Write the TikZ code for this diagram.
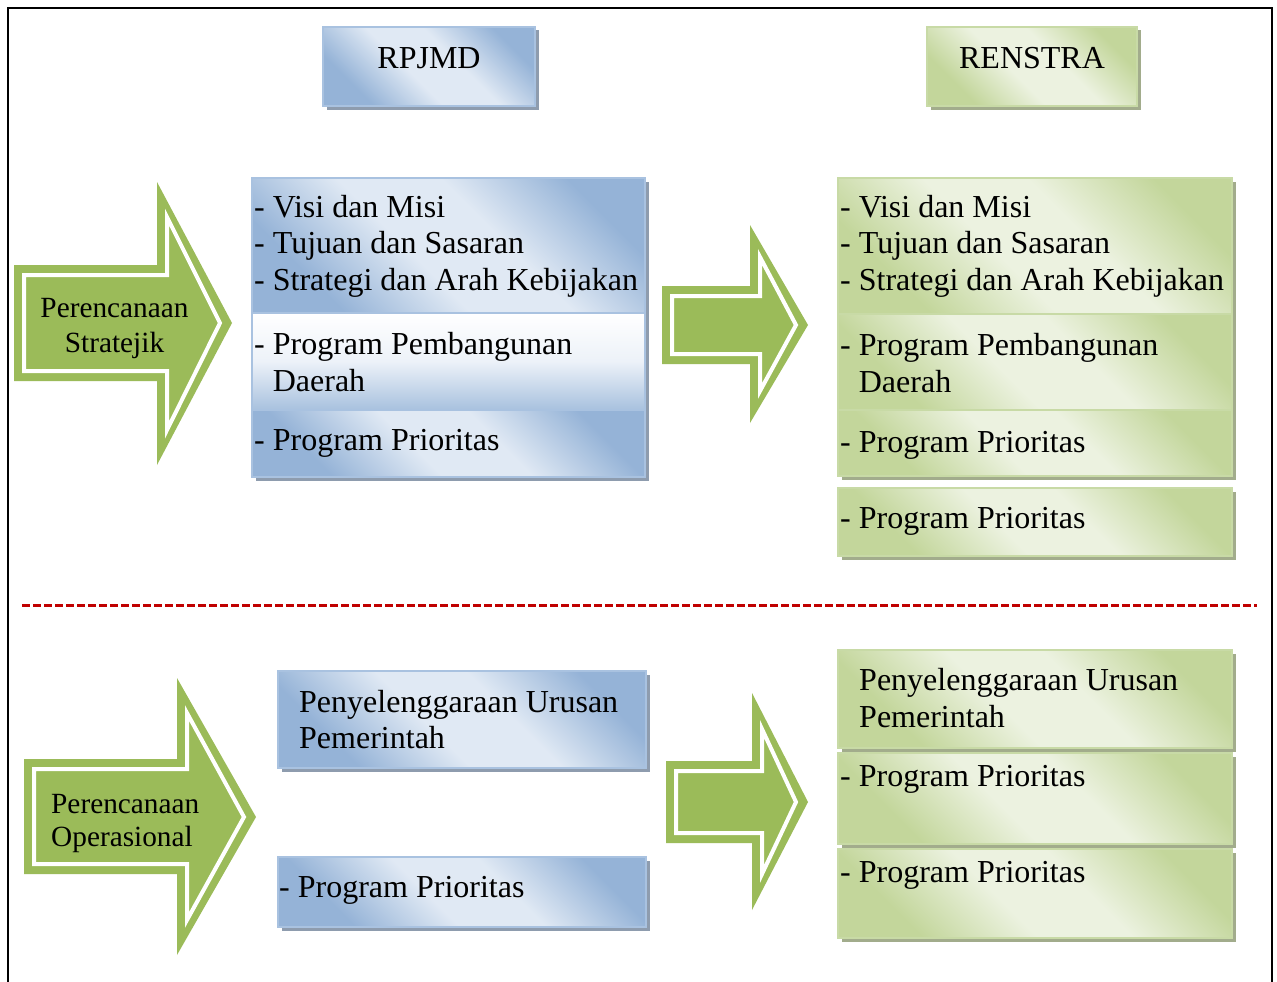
\documentclass[tikz,border=0pt]{standalone}
\usepackage{fontspec}
\setmainfont{Liberation Serif}
\usetikzlibrary{shadows}
\definecolor{bdk}{HTML}{95B3D7}
\definecolor{blt}{HTML}{E0E9F4}
\definecolor{bbd}{HTML}{A9C2E0}
\definecolor{bsh}{HTML}{8E9CAE}
\definecolor{gdk}{HTML}{C3D69B}
\definecolor{glt}{HTML}{ECF2E0}
\definecolor{gbd}{HTML}{C8DAA6}
\definecolor{gsh}{HTML}{A2AC8C}
\definecolor{arr}{HTML}{9BBB59}
\definecolor{dred}{HTML}{C00000}
\pgfdeclareverticalshading{bluesh}{100bp}{color(0bp)=(bdk); color(27bp)=(bdk); color(44bp)=(blt); color(58bp)=(blt); color(75bp)=(bdk); color(100bp)=(bdk)}
\pgfdeclareverticalshading{greensh}{100bp}{color(0bp)=(gdk); color(27bp)=(gdk); color(44bp)=(glt); color(58bp)=(glt); color(75bp)=(gdk); color(100bp)=(gdk)}
\tikzset{
  box/.style={rectangle, inner sep=0pt, outer sep=0pt, line width=1.2pt},
  bluebox/.style={box, draw=bbd, shading=bluesh, shading angle=-45,
    drop shadow={shadow xshift=3.5pt, shadow yshift=-3.5pt, fill=bsh, opacity=1}},
  whitebluebox/.style={box, draw=bbd, top color=white, bottom color=bdk!75!blt, middle color=blt!60!white,
    drop shadow={shadow xshift=3.5pt, shadow yshift=-3.5pt, fill=bsh, opacity=1}},
  greenbox/.style={box, draw=gbd, shading=greensh, shading angle=-45,
    drop shadow={shadow xshift=3.5pt, shadow yshift=-3.5pt, fill=gsh, opacity=1}},
  txt/.style={anchor=base west, inner sep=0pt, font=\fontsize{32}{37}\selectfont},
  head/.style={anchor=base, inner sep=0pt, font=\fontsize{32}{37}\selectfont},
  arrtxt/.style={inner sep=0pt, font=\fontsize{29.3}{34}\selectfont},
}
% x0 yt yb xh ht hb xt ym hv
\newcommand\blockarrow[9]{%
  \fill[arr] (#1,#2) -- (#4,#2) -- (#4,#5) -- (#7,#8) -- (#4,#6) -- (#4,#3) -- (#1,#3) -- cycle;
  \draw[white, line width=4pt, line join=miter]
    (#1+10,#2+10) -- (#4+10,#2+10) -- (#4+10,#5+#9) -- (#7-12,#8) -- (#4+10,#6-#9)
    -- (#4+10,#3-10) -- (#1+10,#3-10) -- cycle;
}
\begin{document}
\begin{tikzpicture}[x=1pt, y=-1pt]
\useasboundingbox[fill=white] (0,0) rectangle (1277,982);
% frame
\draw[line width=2.5pt] (8,990) -- (8,8) -- (1272,8) -- (1272,990);
% separator
\draw[dred, line width=3pt, dash pattern=on 8pt off 3pt] (22,605) -- (1257,605);

% headers
\node[bluebox, minimum width=212pt, minimum height=79pt] (hR) at (429,66.5) {};
\node[head] (hRt) at (429,69) {RPJMD};
\node[greenbox, minimum width=210pt, minimum height=79pt] (hS) at (1032,66.5) {};
\node[head] (hSt) at (1032,69) {RENSTRA};

% left arrows
\blockarrow{14}{265}{381}{157}{182}{465}{232}{323}{35}
\node[arrtxt, anchor=base] (a1t1) at (114.5,317) {Perencanaan};
\node[arrtxt, anchor=base] (a1t2) at (114.5,352) {Stratejik};
\blockarrow{24}{759}{874}{177}{678}{955}{256}{817}{35}
\node[arrtxt, anchor=base west] (a2t1) at (51,813) {Perencanaan};
\node[arrtxt, anchor=base west] (a2t2) at (51,846) {Operasional};

% middle arrows
\blockarrow{662}{286}{364}{750}{225}{423}{808}{325}{32}
\blockarrow{666}{761}{843}{752}{693}{910}{808}{802}{36}

% RPJMD upper
\node[bluebox, minimum width=393pt, minimum height=135pt] (r1) at (448.5,245.5) {};
\node[whitebluebox, minimum width=393pt, minimum height=97pt] (r2) at (448.5,361.5) {};
\node[bluebox, minimum width=393pt, minimum height=67pt] (r3) at (448.5,443.5) {};
\node[txt] (r1a) at (254,217) {- Visi dan Misi};
\node[txt] (r1b) at (254,253.5) {- Tujuan dan Sasaran};
\node[txt] (r1c) at (254,290) {- Strategi dan Arah Kebijakan};
\node[txt] (r2a) at (254,354) {- Program Pembangunan};
\node[txt] (r2b) at (254,391) {\phantom{-} Daerah};
\node[txt] (r3a) at (254,450) {- Program Prioritas};

% RENSTRA upper
\node[greenbox, minimum width=394pt, minimum height=136pt] (s1) at (1035,246) {};
\node[greenbox, minimum width=394pt, minimum height=96pt] (s2) at (1035,362) {};
\node[greenbox, minimum width=394pt, minimum height=66pt] (s3) at (1035,443) {};
\node[greenbox, minimum width=394pt, minimum height=68pt] (s4) at (1035,522) {};
\node[txt] (s1a) at (840,217) {- Visi dan Misi};
\node[txt] (s1b) at (840,253.5) {- Tujuan dan Sasaran};
\node[txt] (s1c) at (840,290) {- Strategi dan Arah Kebijakan};
\node[txt] (s2a) at (840,355) {- Program Pembangunan};
\node[txt] (s2b) at (840,392) {\phantom{-} Daerah};
\node[txt] (s3a) at (840,452) {- Program Prioritas};
\node[txt] (s4a) at (840,528) {- Program Prioritas};

% RPJMD lower
\node[bluebox, minimum width=368pt, minimum height=97pt] (rl1) at (462,719.5) {};
\node[bluebox, minimum width=368pt, minimum height=70pt] (rl2) at (462,892) {};
\node[txt] (rl1a) at (299,712) {Penyelenggaraan Urusan};
\node[txt] (rl1b) at (299,748) {Pemerintah};
\node[txt] (rl2a) at (279,897) {- Program Prioritas};

% RENSTRA lower
\node[greenbox, minimum width=394pt, minimum height=98pt] (sl1) at (1035,699) {};
\node[greenbox, minimum width=394pt, minimum height=91pt] (sl2) at (1035,798.5) {};
\node[greenbox, minimum width=394pt, minimum height=89pt] (sl3) at (1035,893.5) {};
\node[txt] (sl1a) at (859,690) {Penyelenggaraan Urusan};
\node[txt] (sl1b) at (859,727) {Pemerintah};
\node[txt] (sl2a) at (840,786) {- Program Prioritas};
\node[txt] (sl3a) at (840,882) {- Program Prioritas};
\end{tikzpicture}
\end{document}
